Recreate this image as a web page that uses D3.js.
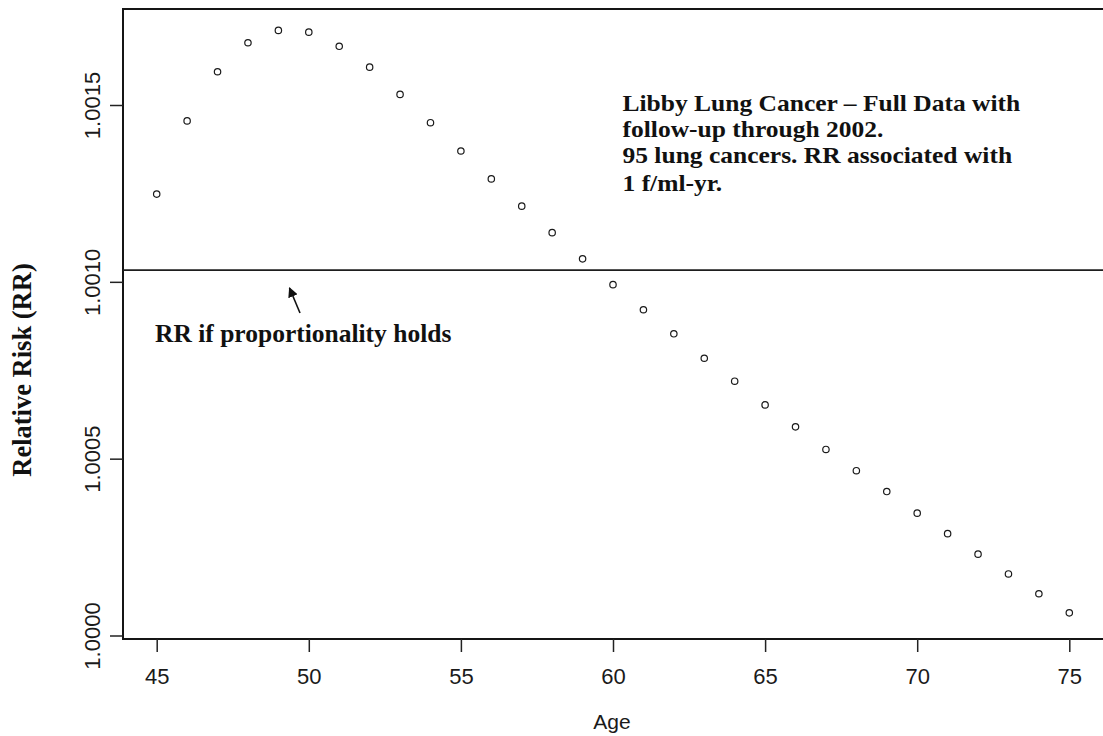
<!DOCTYPE html>
<html>
<head>
<meta charset="utf-8">
<script src="https://cdn.jsdelivr.net/npm/d3@7"></script>
<style>
  html, body { margin: 0; padding: 0; background: #ffffff; }
  svg { display: block; }
</style>
</head>
<body>
<svg id="chart" width="1103" height="736"></svg>
<script>
// ---- Data ----
const ages = [45, 46, 47, 48, 49, 50, 51, 52, 53, 54, 55, 56, 57, 58, 59, 60,
              61, 62, 63, 64, 65, 66, 67, 68, 69, 70, 71, 72, 73, 74, 75];
const rrValues = [1.001248, 1.001455, 1.001594, 1.001676, 1.001711, 1.001706,
                  1.001666, 1.001607, 1.001530, 1.001450, 1.001370, 1.001291,
                  1.001214, 1.001139, 1.001065, 1.000992, 1.000921, 1.000853,
                  1.000784, 1.000719, 1.000652, 1.000590, 1.000526, 1.000466,
                  1.000407, 1.000346, 1.000288, 1.000230, 1.000174, 1.000118,
                  1.000064];
const proportionalRR = 1.001033;
const xTicks = [45, 50, 55, 60, 65, 70, 75];
const yTicks = [1.0000, 1.0005, 1.0010, 1.0015];
const yTickLabels = ["1.0000", "1.0005", "1.0010", "1.0015"];
const annotationLines = [
  "Libby Lung Cancer \u2013 Full Data with",
  "follow-up through 2002.",
  "95 lung cancers. RR associated with",
  "1 f/ml-yr."
];
const lineLabel = "RR if proportionality holds";
const xTitle = "Age";
const yTitle = "Relative Risk (RR)";

// ---- Layout ----
const svg = d3.select("#chart");
const frame = { left: 123, top: 9, bottom: 639 };

const x = d3.scaleLinear().domain([45, 75]).range([156.7, 1069.3]);
const y = d3.scaleLinear().domain([1.0000, 1.0015]).range([635.5, 105]);
const xMax = 76.2;

const serif = "'Liberation Serif', 'Times New Roman', serif";
const sans = "'Liberation Sans', Arial, sans-serif";

// Box (left, top, bottom; right side is beyond the picture)
svg.append("path")
  .attr("d", `M${x(xMax)},${frame.top} L${frame.left},${frame.top} L${frame.left},${frame.bottom} L${x(xMax)},${frame.bottom}`)
  .attr("fill", "none")
  .attr("stroke", "#151515")
  .attr("stroke-width", 2);

// X axis
const xAxis = svg.append("g")
  .attr("transform", `translate(0,${frame.bottom})`)
  .call(d3.axisBottom(x).tickValues(xTicks).tickSize(13).tickFormat(d3.format("d")));
xAxis.select(".domain").remove();
xAxis.selectAll(".tick line").attr("stroke", "#222").attr("stroke-width", 1.5);
xAxis.selectAll(".tick text")
  .attr("y", 45).attr("dy", 0)
  .attr("fill", "#1a1a1a")
  .style("font-family", sans).style("font-size", "22px");

// Y axis
const yAxis = svg.append("g")
  .attr("transform", `translate(${frame.left},0)`)
  .call(d3.axisLeft(y).tickValues(yTicks).tickSize(13)
        .tickFormat((d, i) => yTickLabels[i]));
yAxis.select(".domain").remove();
yAxis.selectAll(".tick line").attr("stroke", "#222").attr("stroke-width", 1.5);
yAxis.selectAll(".tick text")
  .attr("x", 0).attr("y", -23).attr("dy", 0)
  .attr("transform", "rotate(-90)")
  .attr("text-anchor", "middle")
  .attr("fill", "#1a1a1a")
  .style("font-family", sans).style("font-size", "22px");

// Proportionality line
svg.append("line")
  .attr("x1", frame.left).attr("x2", x(xMax))
  .attr("y1", y(proportionalRR)).attr("y2", y(proportionalRR))
  .attr("stroke", "#1e1e1e").attr("stroke-width", 1.6);

// Points
svg.append("g").selectAll("circle")
  .data(ages.map((a, i) => ({ age: a, rr: rrValues[i] })))
  .join("circle")
  .attr("cx", d => x(d.age))
  .attr("cy", d => y(d.rr))
  .attr("r", 3.2)
  .attr("fill", "none")
  .attr("stroke", "#1a1a1a")
  .attr("stroke-width", 1.2);

// Axis titles
svg.append("text")
  .attr("x", 612).attr("y", 729)
  .attr("text-anchor", "middle")
  .style("font-family", sans).style("font-size", "21px")
  .attr("fill", "#1a1a1a")
  .text(xTitle);

svg.append("text")
  .attr("transform", "translate(31,370) rotate(-90)")
  .attr("text-anchor", "middle")
  .style("font-family", serif).style("font-size", "26.5px").style("font-weight", "bold")
  .attr("fill", "#111")
  .text(yTitle);

// Annotation block: separate text lines, width kept as at 25.5px but a
// slightly smaller font so the lines do not overlap.
const baselines = [110.7, 136.8, 163.2, 190.5];
annotationLines.forEach((t, i) => {
  const el = svg.append("text")
    .attr("x", 622.5).attr("y", baselines[i])
    .style("font-family", serif).style("font-size", "25.5px").style("font-weight", "bold")
    .attr("fill", "#111")
    .text(t);
  const w = el.node().getComputedTextLength();
  el.style("font-size", "23.3px")
    .attr("textLength", w)
    .attr("lengthAdjust", "spacingAndGlyphs");
});

// Line label with arrow
svg.append("text")
  .attr("x", 155).attr("y", 342)
  .style("font-family", serif).style("font-size", "25.5px").style("font-weight", "bold")
  .attr("fill", "#111")
  .text(lineLabel);

svg.append("defs").append("marker")
  .attr("id", "arrowhead")
  .attr("viewBox", "0 0 10 10")
  .attr("refX", 9).attr("refY", 5)
  .attr("markerWidth", 10).attr("markerHeight", 10)
  .attr("markerUnits", "userSpaceOnUse")
  .attr("orient", "auto")
  .append("path")
  .attr("d", "M0,0 L10,5 L0,10 Z")
  .attr("fill", "#111");

svg.append("line")
  .attr("x1", 300).attr("y1", 313)
  .attr("x2", 289.5).attr("y2", 288)
  .attr("stroke", "#111").attr("stroke-width", 1.6)
  .attr("marker-end", "url(#arrowhead)");
</script>
</body>
</html>
